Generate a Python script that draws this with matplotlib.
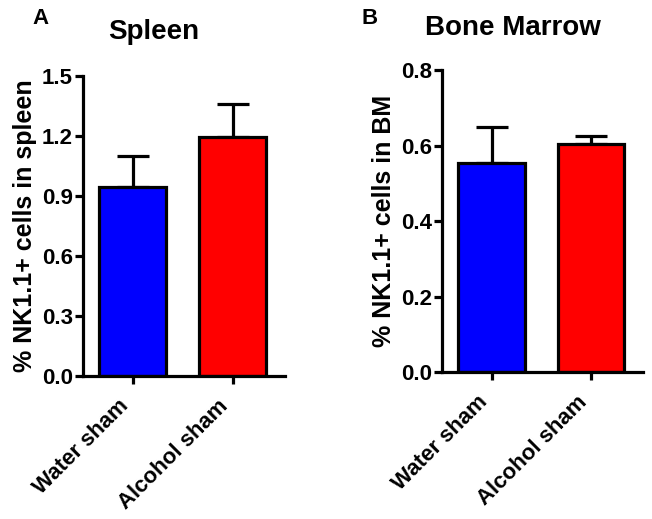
import matplotlib
matplotlib.use("Agg")
import matplotlib.pyplot as plt

plt.rcParams['font.family'] = ['Liberation Sans', 'DejaVu Sans']
plt.rcParams['font.weight'] = 'bold'

groups = ["Water sham", "Alcohol sham"]
colors = ["#0000FF", "#FF0000"]

spleen_mean = [0.945, 1.195]
spleen_sem = [0.155, 0.165]
spleen_ticks = [0.0, 0.3, 0.6, 0.9, 1.2, 1.5]
spleen_ticklabels = ["0.0", "0.3", "0.6", "0.9", "1.2", "1.5"]

bm_mean = [0.555, 0.604]
bm_sem = [0.094, 0.022]
bm_ticks = [0.0, 0.2, 0.4, 0.6, 0.8]
bm_ticklabels = ["0.0", "0.2", "0.4", "0.6", "0.8"]

fig = plt.figure(figsize=(6.52, 5.19), dpi=100)
axA = fig.add_axes([0.127, 0.2755, 0.310, 0.578])
axB = fig.add_axes([0.678, 0.283, 0.308, 0.582])

LW = 2.3

def panel(ax, means, sems, ticks, ticklabels, ylabel, title, letter, lx, tx, ty):
    x = list(range(len(groups)))
    ax.bar(x, means, width=0.67, color=colors, edgecolor='black', linewidth=LW, zorder=2)
    ax.errorbar(x, means, yerr=[[0]*len(sems), sems], fmt='none', ecolor='black',
                elinewidth=LW, capsize=11.5, capthick=LW, zorder=1)
    ax.set_xlim(-0.5, 1.52)
    ax.set_ylim(0, ticks[-1])
    ax.set_yticks(ticks)
    ax.set_yticklabels(ticklabels, fontsize=16, fontweight='bold')
    ax.set_xticks(x)
    ax.set_xticklabels(groups, rotation=45, ha='right', va='top', fontsize=16, fontweight='bold')
    ax.spines['top'].set_visible(False)
    ax.spines['right'].set_visible(False)
    ax.spines['left'].set_linewidth(LW)
    ax.spines['bottom'].set_linewidth(LW)
    ax.tick_params(axis='both', width=LW, length=6, direction='out', pad=1)
    ax.tick_params(axis='x', pad=8)
    ax.set_ylabel(ylabel, fontsize=18, fontweight='bold', labelpad=4)
    fig.text(tx, ty, title, fontsize=20, fontweight='bold', ha='center', va='baseline')
    fig.text(lx, 0.954, letter, fontsize=16, fontweight='bold', ha='left', va='baseline')

panel(axA, spleen_mean, spleen_sem, spleen_ticks, spleen_ticklabels,
      "% NK1.1+ cells in spleen", "Spleen", "A", 0.050, 0.236, 0.925)
panel(axB, bm_mean, bm_sem, bm_ticks, bm_ticklabels,
      "% NK1.1+ cells in BM", "Bone Marrow", "B", 0.555, 0.787, 0.933)

fig.savefig("out.png", dpi=100)
